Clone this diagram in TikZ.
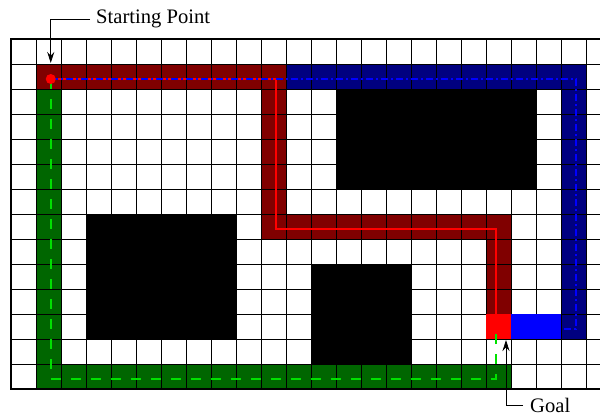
\documentclass[tikz,border=0pt]{standalone}
\usepackage{fontspec}
\setmainfont{Liberation Serif}
\usetikzlibrary{arrows.meta, positioning, calc}
\definecolor{pathred}{RGB}{128,0,0}
\definecolor{pathblue}{RGB}{0,0,128}
\definecolor{pathgreen}{RGB}{0,102,0}
\definecolor{linegreen}{RGB}{0,225,0}
\definecolor{lineblue}{RGB}{0,0,255}
\tikzset{
    cell_red/.style={fill=pathred},
    cell_blue/.style={fill=pathblue},
    cell_green/.style={fill=pathgreen},
    cell_goal/.style={fill=red},
    cell_near/.style={fill=lineblue},
    obstacle/.style={fill=black},
    grid_line/.style={draw=black, line width=0.8pt},
    route_red/.style={red, line width=1.6pt},
    route_green/.style={linegreen, line width=1.6pt, dash pattern=on 10pt off 10pt},
    route_blue/.style={lineblue, line width=1.6pt, dash pattern=on 7pt off 3pt on 2pt off 3pt},
    label_text/.style={font=\rmfamily\fontsize{20.6}{24}\selectfont, inner xsep=6pt},
    arrow/.style={-{Stealth[length=11pt, width=7pt]}, line width=0.8pt}
}

\begin{document}
\begin{tikzpicture}[x=25pt, y=-25pt]
            % Page frame
            \useasboundingbox (-0.44,-1.56) rectangle (23.56,15.08);
            \clip (-0.44,-1.56) rectangle (23.56,15.08);
            \fill[white] (-0.44,-1.56) rectangle (23.56,15.08);

            % Cells visited by each route
            \fill[cell_red] (1,1) rectangle (11,2);
            \fill[cell_red] (10,1) rectangle (11,8);
            \fill[cell_red] (10,7) rectangle (20,8);
            \fill[cell_red] (19,7) rectangle (20,11);
            \fill[cell_blue] (11,1) rectangle (23,2);
            \fill[cell_blue] (22,1) rectangle (23,12);
            \fill[cell_green] (1,2) rectangle (2,14);
            \fill[cell_green] (1,13) rectangle (20,14);

            % Grid
            \foreach \i in {0,...,24}
                \draw[grid_line] (\i,0) -- (\i,14);
            \foreach \j in {0,...,14}
                \draw[grid_line] (0,\j) -- (24,\j);
            \draw[line width=1.2pt] (0,0) rectangle (24,14);

            % Obstacles
            \fill[obstacle] (3,7) rectangle (9,12);
            \fill[obstacle] (12,9) rectangle (16,13);
            \fill[obstacle] (13,2) rectangle (21,6);

            % Goal cell and its neighbours
            \fill[cell_goal] (19,11) rectangle (20,12);
            \fill[cell_near] (20,11) rectangle (22,12);

            % Route points
            \coordinate (start) at (1.59,1.6);
            \coordinate (goal) at (19.39,11.6);
            \coordinate (red_turn) at (10.59,7.6);
            \coordinate (green_turn) at (19.39,13.6);
            \coordinate (blue_turn) at (22.59,11.6);
            \coordinate (blue_end) at (20,11.6);
            \coordinate (start_tip) at (1.59,0.96);
            \coordinate (goal_tip) at (19.8,12.04);

            % Routes
            \draw[route_red] (start) -| (red_turn) -| (goal);
            \draw[route_green] (start) |- (green_turn) -- (goal);
            \draw[route_blue] (start) -| (blue_turn) -- (blue_end);
            \node (start_dot) [circle, fill=red, inner sep=0pt, minimum size=10pt] at (start) {};

            % Labels
            \node (start_label) [label_text, anchor=west] at (3.16,-0.8) {Starting Point};
            \node (goal_label) [label_text, anchor=west, inner xsep=7pt] at (20.48,14.66) {Goal};
            \draw [arrow] (start_label.west) -| (start_tip);
            \draw [arrow] (goal_label.west) -| (goal_tip);
\end{tikzpicture}
\end{document}
